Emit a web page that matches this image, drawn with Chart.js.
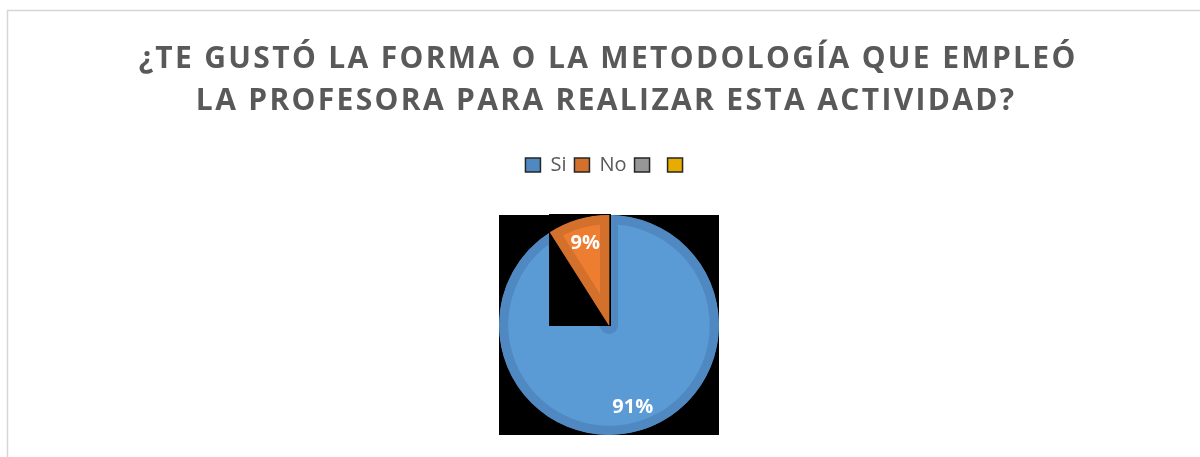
<!DOCTYPE html>
<html>
<head>
<meta charset="utf-8">
<script src="https://cdn.jsdelivr.net/npm/chart.js@4.4.1/dist/chart.umd.min.js"></script>
<style>
  html, body { margin: 0; padding: 0; background: #fff; overflow: hidden; }
  #wrap { width: 1200px; height: 457px; overflow: hidden; }
</style>
</head>
<body>
<div id="wrap"><canvas id="pieChart" width="1200" height="480"></canvas></div>
<script>
// data
const titleLines = [
  '¿TE GUSTÓ LA FORMA O LA METODOLOGÍA QUE EMPLEÓ',
  'LA PROFESORA PARA REALIZAR ESTA ACTIVIDAD?',
];
const categories = ['Si', 'No', '', ''];
const answers = [91, 9, 0, 0];

// colours
const fillColors = ['#5b9bd5', '#ed7d31', '#a5a5a5', '#ffc000'];
const bandColors = ['#5089c2', '#d3702c', '#979797', '#e6ac00'];
const textGray = '#595959';

// light frame line top and left
const framePlugin = {
  id: 'frame',
  beforeDraw(chart) {
    const ctx = chart.ctx;
    ctx.save();
    ctx.strokeStyle = '#d6d6d6';
    ctx.lineWidth = 1.5;
    ctx.beginPath();
    ctx.moveTo(7.5, chart.height);
    ctx.lineTo(7.5, 10.5);
    ctx.lineTo(chart.width, 10.5);
    ctx.stroke();
    ctx.restore();
  },
};

// spaced title, like the excel one
const titlePlugin = {
  id: 'spacedTitle',
  afterDraw(chart) {
    const ctx = chart.ctx;
    ctx.save();
    ctx.font = 'bold 30px "Open Sans"';
    ctx.fillStyle = textGray;
    ctx.textAlign = 'center';
    ctx.textBaseline = 'alphabetic';
    ctx.letterSpacing = '0px';
    const w = ctx.measureText(titleLines[0]).width;
    const ls = Math.max(0, (939 - w) / titleLines[0].length);
    ctx.letterSpacing = ls.toFixed(2) + 'px';
    ctx.fillText(titleLines[0], 607 + ls / 2, 68);
    ctx.fillText(titleLines[1], 605 + ls / 2, 110);
    ctx.restore();
  },
};

// black square behind the pie, black box behind the small slice, labels
const piePlugin = {
  id: 'pieExtras',
  beforeDatasetsDraw(chart) {
    const arc = chart.getDatasetMeta(0).data[0];
    const { x, y, outerRadius } = arc.getProps(['x', 'y', 'outerRadius']);
    const ctx = chart.ctx;
    ctx.save();
    ctx.fillStyle = '#000';
    ctx.fillRect(x - outerRadius, y - outerRadius, outerRadius * 2, outerRadius * 2);
    ctx.restore();
  },
  afterDatasetsDraw(chart) {
    const ctx = chart.ctx;
    const meta = chart.getDatasetMeta(0);
    const arcs = meta.data;
    // box round the second slice
    const a = arcs[1];
    const p = a.getProps(['x', 'y', 'startAngle', 'endAngle', 'outerRadius']);
    const xs = [p.x, p.x + Math.cos(p.startAngle) * p.outerRadius, p.x + Math.cos(p.endAngle) * p.outerRadius];
    const ys = [p.y, p.y + Math.sin(p.startAngle) * p.outerRadius, p.y + Math.sin(p.endAngle) * p.outerRadius];
    ctx.save();
    ctx.fillStyle = '#000';
    const x0 = Math.min(...xs) - 1, x1 = Math.max(...xs) + 2;
    const y0 = Math.min(...ys) - 1, y1 = Math.max(...ys) + 1;
    ctx.fillRect(x0, y0, x1 - x0, y1 - y0);
    ctx.restore();
    a.draw(ctx, chart.chartArea);

    const total = answers.reduce((s, v) => s + v, 0);
    ctx.save();
    ctx.font = 'bold 20px "Open Sans"';
    ctx.fillStyle = '#fff';
    ctx.textAlign = 'center';
    ctx.textBaseline = 'middle';
    arcs.forEach((arc, i) => {
      if (!answers[i]) return;
      const q = arc.getProps(['x', 'y', 'startAngle', 'endAngle', 'outerRadius']);
      const mid = (q.startAngle + q.endAngle) / 2;
      const r = q.outerRadius * 0.775;
      const pct = Math.round((answers[i] / total) * 100) + '%';
      ctx.fillText(pct, q.x + Math.cos(mid) * r, q.y + Math.sin(mid) * r);
    });
    ctx.restore();
  },
};

const pieConfig = {
  type: 'pie',
  data: {
    labels: categories,
    datasets: [
      {
        data: answers,
        backgroundColor: fillColors,
        borderColor: bandColors,
        borderWidth: 9,
        borderAlign: 'inner',
        hoverOffset: 0,
      },
    ],
  },
  options: {
    responsive: false,
    animation: false,
    radius: 110,
    layout: {
      padding: { top: 147, left: 18, right: 0, bottom: 15 },
    },
    plugins: {
      title: { display: false },
      tooltip: { enabled: false },
      legend: {
        position: 'top',
        labels: {
          boxWidth: 15,
          boxHeight: 14,
          padding: 8,
          color: textGray,
          font: { family: '"Open Sans"', size: 20 },
          generateLabels: function (chart) {
            return categories.map(function (label, i) {
              return {
                text: label,
                fillStyle: bandColors[i],
                strokeStyle: '#262626',
                lineWidth: 1.5,
                fontColor: textGray,
                hidden: false,
                index: i,
              };
            });
          },
        },
      },
    },
  },
  plugins: [framePlugin, titlePlugin, piePlugin],
};

const pieChart = new Chart(document.getElementById('pieChart'), pieConfig);
</script>
</body>
</html>
